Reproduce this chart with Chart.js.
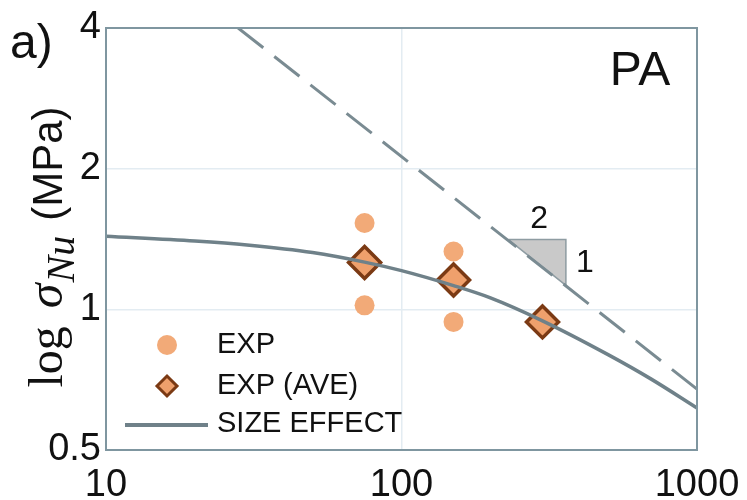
<!DOCTYPE html>
<html>
<head>
<meta charset="utf-8">
<script src="https://cdn.jsdelivr.net/npm/chart.js@4/dist/chart.umd.min.js"></script>
<style>
  body { margin: 0; background: #fff; }
  #wrap { width: 747px; height: 500px; }
</style>
</head>
<body>
<div id="wrap"><canvas id="sizeChart" width="747" height="500"></canvas></div>
<script>
// specimen size D (mm) and nominal strength (MPa)
const expSize = [75, 75, 150, 150];
const expStrength = [1.53, 1.02, 1.33, 0.94];

const aveSize = [75, 150, 300];
const aveStrength = [1.26, 1.155, 0.94];

// fitted size effect law
const fitSize = [10, 20, 30, 50, 75, 100, 150, 200, 300, 500, 700, 1000];
const fitStrength = [1.434, 1.40, 1.373, 1.323, 1.262, 1.21, 1.124, 1.058, 0.945, 0.80, 0.709, 0.615];

// slope -1/2 asymptote
const lefmSize = [28, 1000];
const lefmStrength = [4, 0.675];

// slope triangle
const triSize = [230, 360, 360, 230];
const triStrength = [1.41, 1.41, 1.125, 1.41];

const xTicks = [10, 100, 1000];
const yTicks = [0.5, 1, 2, 4];

const ORANGE = '#F2AA78';
const BROWN = '#7B3A14';
const LINE = '#6F8189';
const FRAME = '#7F96A0';
const GRID = '#E3ECF2';
const INK = '#111';

const toPts = (xs, ys) => xs.map((x, i) => ({ x: x, y: ys[i] }));

// frame, panel letter, title, triangle labels, legend, y title
const decorations = {
  id: 'decorations',
  afterDraw(chart) {
    const ctx = chart.ctx;
    const a = chart.chartArea;
    const xs = chart.scales.x, ys = chart.scales.y;

    ctx.save();
    ctx.strokeStyle = FRAME;
    ctx.lineWidth = 2;
    ctx.strokeRect(a.left, a.top, a.right - a.left, a.bottom - a.top);

    ctx.fillStyle = INK;
    ctx.textBaseline = 'alphabetic';
    ctx.textAlign = 'left';
    ctx.font = '48px "Liberation Sans"';
    ctx.fillText('a)', 10, 58);

    ctx.textAlign = 'center';
    ctx.font = '48px "Liberation Sans"';
    ctx.fillText('PA', 640, 85);

    // labels on the slope triangle
    ctx.font = '32px "Liberation Sans"';
    ctx.textBaseline = 'middle';
    const tx0 = xs.getPixelForValue(triSize[0]);
    const tx1 = xs.getPixelForValue(triSize[1]);
    const ty0 = ys.getPixelForValue(triStrength[0]);
    const ty1 = ys.getPixelForValue(triStrength[2]);
    ctx.fillText('2', (tx0 + tx1) / 2 + 2, ty0 - 20);
    ctx.fillText('1', tx1 + 19, (ty0 + ty1) / 2 + 1);

    // legend
    const ds = chart.data.datasets;
    ctx.textAlign = 'left';
    ctx.font = '29px "Liberation Sans"';
    ctx.beginPath();
    ctx.arc(167, 345, 10, 0, Math.PI * 2);
    ctx.fillStyle = ds[1].backgroundColor;
    ctx.fill();
    ctx.beginPath();
    ctx.moveTo(157, 386); ctx.lineTo(167, 376); ctx.lineTo(177, 386); ctx.lineTo(167, 396);
    ctx.closePath();
    ctx.fillStyle = ds[2].backgroundColor;
    ctx.fill();
    ctx.strokeStyle = ds[2].borderColor;
    ctx.lineWidth = 3;
    ctx.stroke();
    ctx.beginPath();
    ctx.moveTo(125, 425); ctx.lineTo(208, 425);
    ctx.strokeStyle = ds[4].borderColor;
    ctx.lineWidth = 4;
    ctx.stroke();
    ctx.fillStyle = INK;
    ctx.fillText('EXP', 217, 345);
    ctx.fillText('EXP (AVE)', 217, 386);
    ctx.fillText('SIZE EFFECT', 217, 424);

    // rotated axis title: log σ_Nu (MPa)
    const parts = [
      { text: 'log', font: '48px "Liberation Serif"', dy: 0, gap: 18 },
      { text: 'σ', font: 'italic 50px "Liberation Serif"', dy: 0, gap: 1 },
      { text: 'Nu', font: 'italic 40px "Liberation Serif"', dy: 12, gap: 15 },
      { text: '(MPa)', font: '42px "Liberation Sans"', dy: 0, gap: 0 }
    ];
    ctx.textBaseline = 'alphabetic';
    let total = 0;
    parts.forEach(p => { ctx.font = p.font; p.w = ctx.measureText(p.text).width; total += p.w + p.gap; });
    ctx.translate(62, 247 + total / 2);
    ctx.rotate(-Math.PI / 2);
    let pos = 0;
    parts.forEach(p => {
      ctx.font = p.font;
      ctx.fillText(p.text, pos, p.dy);
      pos += p.w + p.gap;
    });
    ctx.restore();
  }
};

new Chart(document.getElementById('sizeChart'), {
  type: 'scatter',
  data: {
    datasets: [
      {
        label: 'slope',
        data: toPts(triSize, triStrength),
        showLine: true,
        fill: 'shape',
        backgroundColor: '#C9C9C9',
        borderColor: '#8E9CA2',
        borderWidth: 1.5,
        pointRadius: 0,
        order: 6
      },
      {
        label: 'EXP',
        data: toPts(expSize, expStrength),
        backgroundColor: ORANGE,
        borderWidth: 0,
        pointRadius: 10,
        order: 5
      },
      {
        label: 'EXP (AVE)',
        data: toPts(aveSize, aveStrength),
        pointStyle: 'rectRot',
        backgroundColor: '#EFA06C',
        borderColor: BROWN,
        borderWidth: 3.5,
        pointRadius: 16,
        order: 4
      },
      {
        label: 'LEFM',
        data: toPts(lefmSize, lefmStrength),
        showLine: true,
        borderColor: '#7A8B92',
        borderWidth: 3,
        borderDash: [32, 14],
        pointRadius: 0,
        order: 3
      },
      {
        label: 'SIZE EFFECT',
        data: toPts(fitSize, fitStrength),
        showLine: true,
        borderColor: LINE,
        borderWidth: 3.5,
        cubicInterpolationMode: 'monotone',
        pointRadius: 0,
        order: 2
      }
    ]
  },
  options: {
    responsive: false,
    animation: false,
    layout: { padding: { left: 0, right: 50, top: 28, bottom: 0 } },
    plugins: { legend: { display: false }, tooltip: { enabled: false } },
    scales: {
      x: {
        type: 'logarithmic',
        min: 10,
        max: 1000,
        afterBuildTicks: s => { s.ticks = xTicks.map(v => ({ value: v })); },
        afterFit: s => { s.height = 50; s.paddingLeft = 0; s.paddingRight = 0; },
        grid: { color: GRID, lineWidth: 1.5, drawTicks: false },
        border: { display: false },
        ticks: {
          color: INK,
          padding: 13,
          maxRotation: 0,
          font: { family: 'Liberation Sans', size: 38 },
          callback: v => String(v)
        }
      },
      y: {
        type: 'logarithmic',
        min: 0.5,
        max: 4,
        afterBuildTicks: s => { s.ticks = yTicks.map(v => ({ value: v })); },
        afterFit: s => { s.width = 106; s.paddingTop = 0; s.paddingBottom = 0; },
        grid: { color: GRID, lineWidth: 1.5, drawTicks: false },
        border: { display: false },
        ticks: {
          color: INK,
          padding: 5,
          font: { family: 'Liberation Sans', size: 38 },
          callback: v => String(v)
        }
      }
    }
  },
  plugins: [decorations]
});
</script>
</body>
</html>
